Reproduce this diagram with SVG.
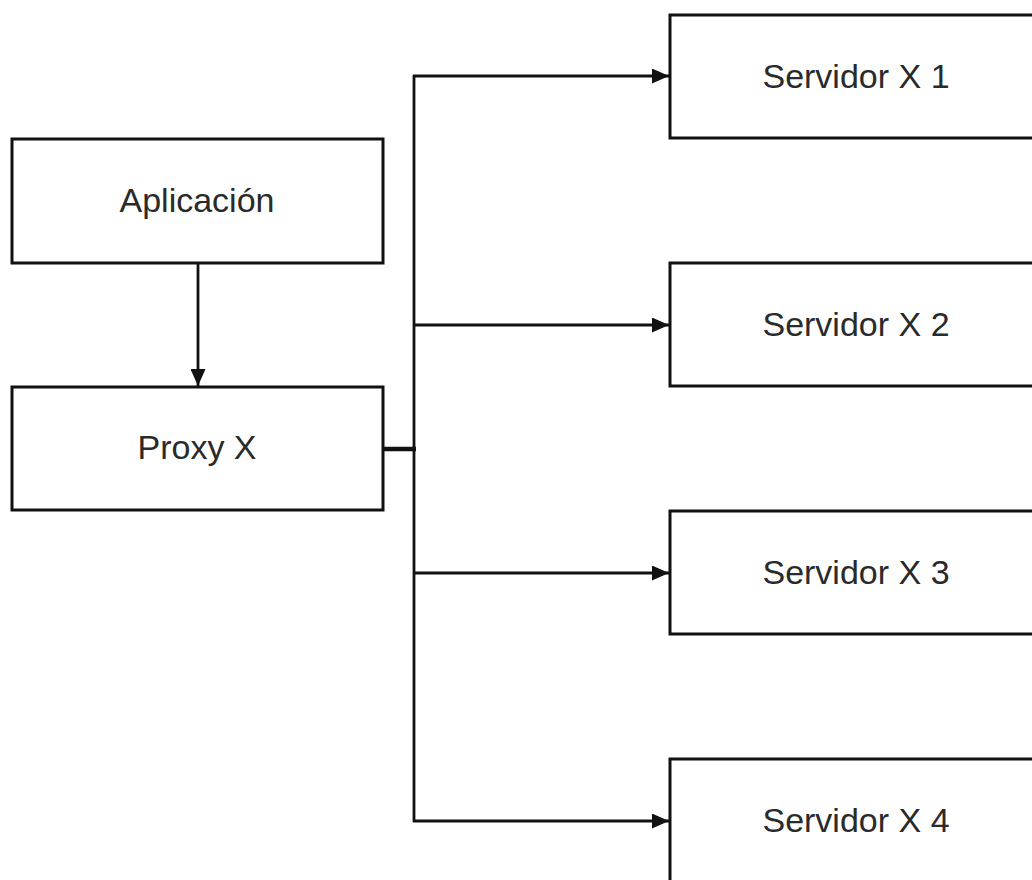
<svg xmlns="http://www.w3.org/2000/svg" width="1032" height="880" viewBox="0 0 1032 880">
<style>
.box{fill:#fff;stroke:#111;stroke-width:3}
.lbl{font-family:"Liberation Sans",Arial,sans-serif;font-size:34px;fill:#2a2a2a;text-anchor:middle}
.ln{fill:none;stroke:#111;stroke-width:2.8}
</style>
<defs>
<marker id="ah" viewBox="0 0 17 15" refX="17" refY="7.5" markerWidth="17" markerHeight="15" markerUnits="userSpaceOnUse" orient="auto">
<path d="M0,0 L17,7.5 L0,15 Z" fill="#111"/>
</marker>
</defs>
<rect width="1032" height="880" fill="#fff"/>
<g id="connectors">
<line class="ln" x1="198" y1="263" x2="198" y2="386" marker-end="url(#ah)"/>
<line class="ln" x1="383" y1="449" x2="416" y2="449" style="stroke-width:4.5"/>
<line class="ln" x1="414" y1="75" x2="414" y2="822"/>
<line class="ln" x1="413" y1="76" x2="669" y2="76" marker-end="url(#ah)"/>
<line class="ln" x1="413" y1="325" x2="669" y2="325" marker-end="url(#ah)"/>
<line class="ln" x1="413" y1="573" x2="669" y2="573" marker-end="url(#ah)"/>
<line class="ln" x1="413" y1="821" x2="669" y2="821" marker-end="url(#ah)"/>
</g>
<g id="aplicacion"><rect class="box" x="12" y="139" width="371" height="124"/><text class="lbl" x="197" y="212">Aplicación</text></g>
<g id="proxy"><rect class="box" x="12" y="387" width="371" height="123"/><text class="lbl" x="197" y="459">Proxy X</text></g>
<g id="servidor1"><rect class="box" x="670" y="15" width="371" height="123"/><text class="lbl" x="856" y="88">Servidor X 1</text></g>
<g id="servidor2"><rect class="box" x="670" y="263" width="371" height="123"/><text class="lbl" x="856" y="336">Servidor X 2</text></g>
<g id="servidor3"><rect class="box" x="670" y="511" width="371" height="123"/><text class="lbl" x="856" y="584">Servidor X 3</text></g>
<g id="servidor4"><rect class="box" x="670" y="759" width="371" height="123"/><text class="lbl" x="856" y="832">Servidor X 4</text></g>
</svg>
